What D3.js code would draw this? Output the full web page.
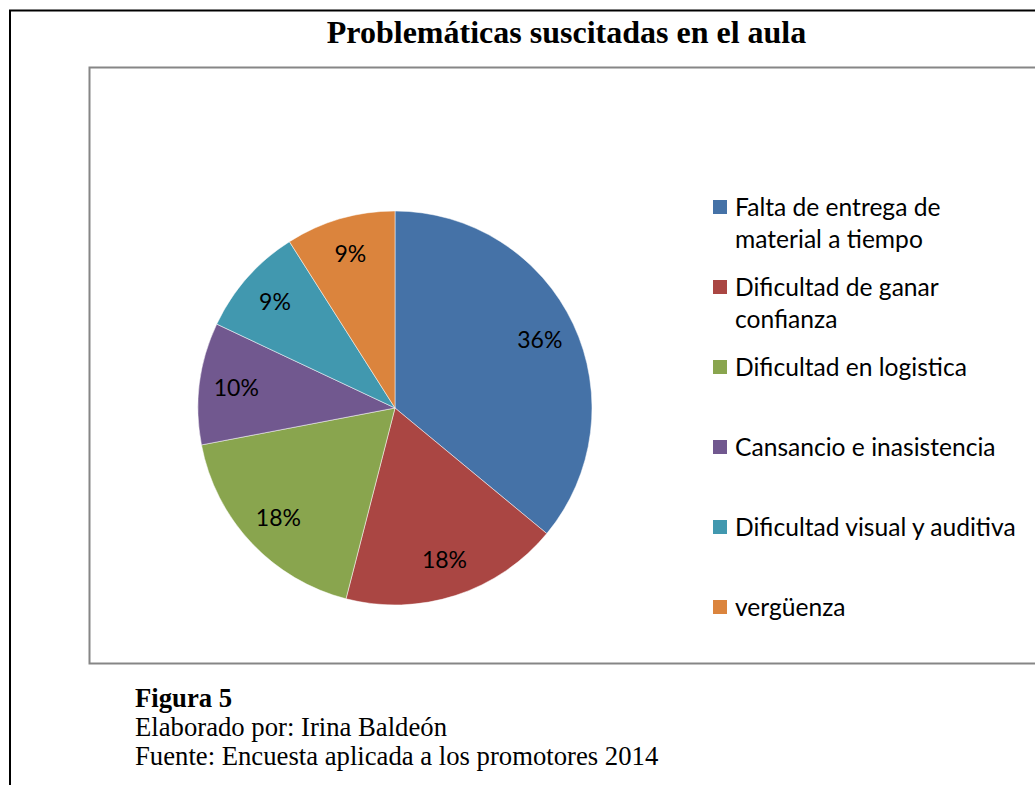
<!DOCTYPE html>
<html>
<head>
<meta charset="utf-8">
<script src="https://cdn.jsdelivr.net/npm/d3@7"></script>
<style>
  body { margin: 0; background: #fff; }
</style>
</head>
<body>
<div id="graph"></div>
<script>
// datos del grafico
const categorias = ["Falta de entrega de material a tiempo", "Dificultad de ganar confianza",
  "Dificultad en logistica", "Cansancio e inasistencia", "Dificultad visual y auditiva", "vergüenza"];
const valores = [36, 18, 18, 10, 9, 9];
const colores = ["#4572A7", "#AA4643", "#89A54E", "#71588F", "#4198AF", "#DB843D"];
// lineas de la leyenda (texto cortado como en el original)
const legendeLignes = [["Falta de entrega de", "material a tiempo"], ["Dificultad de ganar", "confianza"],
  ["Dificultad en logistica"], ["Cansancio e inasistencia"], ["Dificultad visual y auditiva"], ["vergüenza"]];
const piedLignes = ["Elaborado por: Irina Baldeón", "Fuente: Encuesta aplicada a los promotores 2014"];

const width = 1035, height = 785;
const svg = d3.select("#graph").append("svg")
  .attr("width", width).attr("height", height);

// marco exterior (arriba + izquierda)
svg.append("path")
  .attr("d", "M10,785 V10.5 H1035")
  .attr("fill", "none").attr("stroke", "#000").attr("stroke-width", 2);

// marco del grafico
svg.append("rect")
  .attr("x", 89.5).attr("y", 67.5).attr("width", 1000).attr("height", 596)
  .attr("fill", "#fff").attr("stroke", "#868686").attr("stroke-width", 2);

// titulo
svg.append("text")
  .attr("x", 566.5).attr("y", 43)
  .attr("text-anchor", "middle")
  .attr("font-family", "Liberation Serif, Times New Roman, serif")
  .attr("font-weight", "bold").attr("font-size", 32)
  .text("Problemáticas suscitadas en el aula");

// pastel
const cx = 395, cy = 408, r = 197;
const pie = d3.pie().sort(null).value(d => d)(valores);
const arc = d3.arc().innerRadius(0).outerRadius(r);
const arcLabel = d3.arc().innerRadius(160).outerRadius(160);

const g = svg.append("g").attr("transform", "translate(" + cx + "," + cy + ")");
g.selectAll("path.slice")
  .data(pie)
  .enter()
  .append("path")
  .attr("class", "slice")
  .attr("d", arc)
  .attr("fill", (d, i) => colores[i])
  .attr("stroke", "#fff").attr("stroke-width", 0.5);

g.selectAll("text.pct")
  .data(pie)
  .enter()
  .append("text")
  .attr("class", "pct")
  .attr("transform", d => "translate(" + arcLabel.centroid(d) + ")")
  .attr("text-anchor", "middle").attr("dy", "0.35em")
  .attr("font-family", "Lato, Open Sans, sans-serif").attr("font-size", 23)
  .attr("fill", "#000")
  .text(d => d.data + "%");

// leyenda
const y = d3.scalePoint().domain(categorias).range([207, 607]);
const leg = svg.append("g").selectAll("g")
  .data(categorias)
  .enter()
  .append("g")
  .attr("transform", d => "translate(713," + y(d) + ")");
leg.append("rect")
  .attr("x", 0).attr("y", -7).attr("width", 14).attr("height", 14)
  .attr("fill", (d, i) => colores[i]);
leg.append("text")
  .attr("font-family", "Lato, Open Sans, sans-serif").attr("font-size", 24.6)
  .attr("fill", "#000")
  .selectAll("tspan")
  .data((d, i) => legendeLignes[i])
  .enter()
  .append("tspan")
  .attr("x", 22).attr("y", (d, j) => j * 32).attr("dy", "0.35em")
  .text(d => d);

// pie de figura
svg.append("text")
  .attr("x", 135).attr("y", 707)
  .attr("font-family", "Liberation Serif, Times New Roman, serif")
  .attr("font-weight", "bold").attr("font-size", 26.7)
  .text("Figura 5");
svg.selectAll("text.pied")
  .data(piedLignes)
  .enter()
  .append("text")
  .attr("class", "pied")
  .attr("x", 135).attr("y", (d, i) => 736 + i * 29)
  .attr("font-family", "Liberation Serif, Times New Roman, serif")
  .attr("font-size", 26.7)
  .text(d => d);
</script>
</body>
</html>
